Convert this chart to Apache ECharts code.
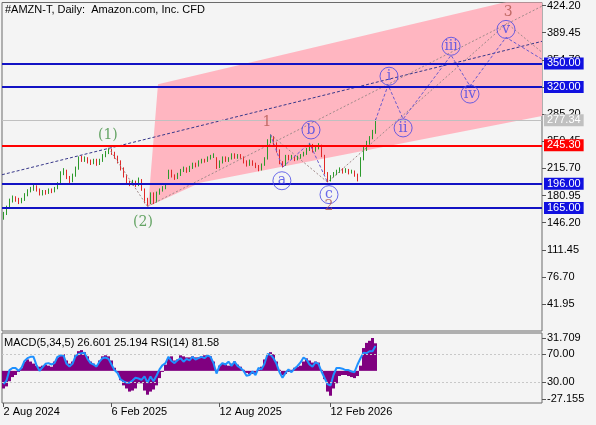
<!DOCTYPE html>
<html>
<head>
<meta charset="utf-8">
<script src="https://cdn.jsdelivr.net/npm/echarts@6.0.0/dist/echarts.min.js"></script>
<style>
  html, body { margin: 0; padding: 0; background: #f4f4f4; }
  #chart { width: 596px; height: 425px; }
</style>
</head>
<body>
<div id="chart"></div>
<script>
// bar index -> date label on the bottom axis
const tickIdx = [0, 36, 72, 109]
const tickDates = ['2 Aug 2024', '6 Feb 2025', '12 Aug 2025', '12 Feb 2026']

// price axis labels (right side)
const priceTicks = [41.95, 76.70, 111.45, 146.20, 180.95, 215.70, 250.45, 285.20, 319.95, 354.70, 389.45, 424.20]

// candles: [open, close, low, high]
const ohlc = [
  [153, 158, 150, 160], [158, 166, 156, 168], [166, 175, 164, 177], [175, 178, 172, 181], [178, 176, 173, 180],
  [176, 173, 170, 178], [173, 175, 171, 178], [175, 182, 174, 184], [182, 187, 180, 189], [187, 189, 185, 192],
  [189, 193, 187, 195], [193, 188, 186, 194], [188, 183, 181, 190], [183, 186, 181, 188], [186, 184, 182, 188],
  [184, 188, 183, 190], [188, 186, 184, 190], [186, 190, 185, 192], [190, 196, 189, 198], [196, 210, 195, 212],
  [210, 213, 207, 216], [213, 204, 202, 214], [204, 199, 197, 206], [199, 207, 198, 209], [207, 216, 205, 218],
  [216, 229, 214, 231], [229, 226, 224, 232], [226, 229, 224, 231], [229, 225, 222, 230], [225, 223, 220, 227],
  [223, 226, 221, 228], [226, 221, 219, 228], [221, 226, 220, 228], [226, 232, 224, 234], [232, 236, 230, 238],
  [236, 240, 234, 242], [240, 235, 233, 241], [235, 230, 228, 237], [230, 225, 222, 232], [225, 215, 213, 226],
  [215, 206, 204, 217], [206, 197, 195, 208], [197, 196, 193, 200], [196, 198, 194, 201], [198, 195, 192, 200],
  [195, 201, 193, 204], [201, 189, 187, 202], [189, 174, 171, 190], [174, 172, 167, 178], [172, 183, 170, 185],
  [183, 173, 170, 185], [173, 184, 172, 186], [184, 188, 182, 190], [188, 191, 186, 193], [191, 193, 189, 196],
  [203, 212, 202, 214], [212, 206, 204, 214], [206, 203, 201, 208], [203, 208, 202, 210], [208, 213, 206, 215],
  [213, 215, 211, 218], [215, 212, 210, 217], [212, 217, 211, 219], [217, 221, 215, 223], [221, 219, 217, 223],
  [219, 224, 218, 226], [224, 226, 222, 228], [226, 225, 223, 228], [225, 229, 224, 231], [229, 231, 227, 233],
  [231, 233, 229, 235], [229, 217, 215, 230], [217, 224, 216, 226], [224, 229, 222, 231], [229, 226, 224, 231],
  [226, 228, 224, 230], [228, 233, 227, 235], [233, 230, 228, 235], [230, 232, 228, 234], [232, 230, 228, 234],
  [230, 224, 222, 231], [224, 220, 218, 226], [220, 225, 219, 227], [225, 221, 219, 226], [221, 218, 216, 223],
  [218, 214, 212, 220], [214, 220, 213, 222], [220, 228, 219, 230], [228, 250, 227, 253], [250, 256, 248, 259],
  [256, 247, 245, 257], [247, 238, 236, 249], [238, 224, 221, 240], [224, 220, 217, 225], [220, 231, 219, 233],
  [231, 228, 226, 233], [228, 231, 227, 233], [231, 227, 225, 232], [227, 230, 226, 232], [230, 232, 228, 234],
  [232, 234, 231, 237], [234, 240, 233, 242], [240, 246, 238, 248], [246, 238, 236, 247], [238, 243, 237, 245],
  [243, 245, 240, 248], [245, 232, 230, 246], [232, 210, 208, 233], [210, 201, 198, 211], [201, 205, 199, 207],
  [205, 209, 204, 211], [209, 212, 207, 214], [212, 215, 210, 217], [215, 211, 209, 216], [211, 214, 210, 216],
  [214, 210, 208, 215], [210, 212, 209, 214], [212, 207, 205, 213], [207, 206, 199, 209], [206, 228, 205, 230],
  [228, 240, 226, 243], [240, 249, 238, 251], [249, 255, 246, 257], [255, 262, 253, 265], [262, 277.34, 260, 279]
]

const macd = [
  -17, -15, -10, -6, -4, -1, 3, 9, 11, 9, 7, 5, 4, 5, 6, 5, 4, 9, 13, 15,
  16, 10, 7, 9, 15, 19, 20, 18, 14, 9, 7, 5, 10, 14, 15, 14, 10, 3, -2, -9,
  -14, -17, -20, -19, -17, -12, -12, -19, -23, -20, -18, -14, -7, -1, 6, 12, 14, 10, 11, 15,
  14, 13, 13, 14, 13, 13, 14, 15, 15, 14, 9, 1, 5, 7, 6, 5, 7, 9, 6, 4,
  1, -2, -3, -3, -2, 1, 4, 11, 16, 18, 16, 9, 1, -4, -3, -1, 1, 3, 4, 5,
  9, 12, 10, 8, 9, 8, 1, -8, -20, -24, -17, -12, -5, -4, -4, -5, -6, -7, -5, 5,
  22, 27, 29, 31.7, 26.6
]

const rsi = [
  27, 32, 47, 50, 50, 46, 50, 60, 64, 66, 66, 54, 46, 51, 56, 57, 55, 57, 66, 68,
  68, 56, 52, 56, 67, 70, 71, 72, 63, 57, 55, 52, 59, 64, 65, 63, 55, 47, 43, 34,
  31, 29, 29, 32, 36, 35, 33, 38, 29, 38, 31, 39, 48, 54, 57, 66, 60, 57, 61, 64,
  59, 63, 61, 66, 62, 64, 66, 64, 68, 66, 57, 42, 53, 57, 55, 59, 53, 59, 53, 50,
  46, 39, 40, 45, 40, 50, 48, 56, 70, 69, 64, 56, 44, 36, 43, 48, 44, 49, 53, 58,
  65, 62, 55, 52, 58, 56, 45, 36, 27, 25, 40, 50, 50, 49, 47, 47, 45, 44, 55, 64,
  72, 71, 74, 74, 81.58
]

// horizontal levels
const blueLevels = [350, 320, 196, 165]
const redLevel = 245.30
const lastPrice = 277.34

// pink channel corners [bar index, price]
const channel = [[51.5, 323.5], [179.5, 439.5], [179.5, 282.8], [65.5, 197.4], [48.2, 166.8]]

// trend lines and wave paths [bar index, price]
const trendDark = [[-0.5, 207.6], [179.5, 378.3]]
const trendGray = [[48, 167], [179.5, 423.4]]
const waveMajorA = [[35, 242], [48, 167]]
const waveMajorB = [[89, 259], [108, 198], [167.8, 401.3], [179.5, 364.3]]
const waveABC = [[89, 259], [93, 217], [102, 248], [108, 198]]
const waveFuture = [[124, 277.34], [128.2, 322.3], [133.2, 278.9], [149.2, 360.5], [155.5, 321.0], [167.5, 383.4], [179.5, 355.4]]

// wave labels
const circleNames = ['a', 'b', 'c', 'i', 'ii', 'iii', 'iv', 'v']
const circlePos = [[92.8, 199.9], [102.5, 264.9], [108.5, 182.1], [128.5, 333.7], [133.2, 267.5], [149.2, 372.0], [155.5, 310.8], [167.5, 393.6]]
const waveNames = ['(1)', '(2)', '1', '2', '3']
const wavePos = [[34.8, 258.5], [46.5, 146.4], [87.8, 275.1], [108.5, 166.8], [168.2, 415.3]]
const waveColors = ['#3f8f3f', '#3f8f3f', '#b0564e', '#b0564e', '#b0564e']

const FONT = 'Liberation Sans'
const LINE_BLUE = '#1212c4'
const TAG_BLUE = '#1010e0'

const chart = echarts.init(document.getElementById('chart'), null, { renderer: 'canvas' })

function tag(bg) {
  return {
    show: true,
    position: 'end',
    distance: 2,
    formatter: p => p.value.toFixed(2),
    color: '#fff',
    backgroundColor: bg,
    padding: [1, 3, 0, 3],
    fontFamily: FONT,
    fontSize: 11
  }
}

function pathSeries(data, color, dash) {
  return {
    type: 'line',
    xAxisIndex: 0,
    yAxisIndex: 0,
    data: data,
    symbol: 'none',
    silent: true,
    z: 4,
    lineStyle: { color: color, width: 1, type: dash }
  }
}

// right-hand value axis with labels only at the given values
function rightAxis(gridIndex, min, max, values, digits) {
  return {
    type: 'value', gridIndex: gridIndex, position: 'right', min: min, max: max,
    splitLine: { show: false },
    axisLine: { show: false, onZero: false },
    axisTick: { show: true, inside: false, customValues: values, length: 4, lineStyle: { color: '#555' } },
    axisLabel: {
      customValues: values,
      formatter: v => v.toFixed(digits),
      margin: 5, color: '#000', fontSize: 11, fontFamily: FONT
    }
  }
}

const levelLines = blueLevels.map(v => ({
  yAxis: v, lineStyle: { color: LINE_BLUE, width: 2, type: 'solid' }, label: tag(TAG_BLUE)
}))
levelLines.push({ yAxis: redLevel, lineStyle: { color: '#ff0000', width: 2, type: 'solid' }, label: tag('#ff0000') })
levelLines.push({ yAxis: lastPrice, lineStyle: { color: '#c0c0c0', width: 1, type: 'solid' }, label: tag('#c0c0c0') })

const textStyle = { fontSize: 11, fontWeight: 'normal', color: '#000', fontFamily: FONT }

const option = {
  animation: false,
  backgroundColor: '#f4f4f4',
  title: [
    { text: '#AMZN-T, Daily:  Amazon.com, Inc. CFD', left: 5, top: 4, padding: 0, textStyle: textStyle },
    { text: 'MACD(5,34,5) 26.601 25.194 RSI(14) 81.58', left: 4, top: 337, padding: 0, textStyle: textStyle }
  ],
  grid: [
    { left: 2, right: 54, top: 1, height: 330, show: true, borderColor: '#6a6a6a', borderWidth: 1 },
    { left: 2, right: 54, top: 333, height: 70, show: true, borderColor: '#6a6a6a', borderWidth: 1 }
  ],
  xAxis: [
    { type: 'value', gridIndex: 0, min: -0.5, max: 179.5, show: false, axisLine: { onZero: false } },
    {
      type: 'value', gridIndex: 1, min: -0.5, max: 179.5,
      splitLine: { show: false },
      axisLine: { show: false, onZero: false },
      axisTick: { show: true, inside: false, customValues: tickIdx, length: 4, lineStyle: { color: '#555' } },
      axisLabel: {
        customValues: tickIdx,
        formatter: v => tickDates[tickIdx.indexOf(v)],
        align: 'left', margin: 3,
        color: '#000', fontSize: 11, fontFamily: FONT
      }
    }
  ],
  yAxis: [
    rightAxis(0, 7.53, 428.02, priceTicks, 2),
    rightAxis(1, -31.015, 36.53, [31.709, -27.155], 3),
    rightAxis(1, 0, 100, [30, 70], 2)
  ],
  series: [
    {
      // pink channel
      type: 'custom',
      xAxisIndex: 0,
      yAxisIndex: 0,
      clip: true,
      silent: true,
      z: 1,
      data: [[60, 250]],
      renderItem: (params, api) => ({
        type: 'polygon',
        shape: { points: channel.map(p => api.coord(p)) },
        style: { fill: '#ffb6c1' }
      })
    },
    {
      type: 'candlestick',
      xAxisIndex: 0,
      yAxisIndex: 0,
      z: 3,
      barWidth: 1,
      data: ohlc.map((d, i) => [i].concat(d)),
      encode: { x: 0, y: [1, 2, 3, 4] },
      itemStyle: {
        color: '#2c9a2c', color0: '#e02828',
        borderColor: '#2c9a2c', borderColor0: '#e02828', borderWidth: 1
      },
      markLine: {
        silent: true,
        symbol: ['none', 'none'],
        data: levelLines
      }
    },
    pathSeries(trendDark, '#38388a', [3, 2]),
    pathSeries(trendGray, '#a08a8a', [2, 2]),
    pathSeries(waveMajorA, '#a08a8a', [2, 2]),
    pathSeries(waveMajorB, '#a08a8a', [2, 2]),
    pathSeries(waveABC, '#6a5acd', [3, 2]),
    pathSeries(waveFuture, '#6a5acd', [3, 2]),
    {
      type: 'scatter',
      xAxisIndex: 0,
      yAxisIndex: 0,
      silent: true,
      z: 5,
      symbol: 'circle',
      symbolSize: 18,
      data: circlePos,
      itemStyle: { color: 'rgba(0,0,0,0)', borderColor: '#4646e6', borderWidth: 1 },
      label: {
        show: true, position: 'inside',
        formatter: p => circleNames[p.dataIndex],
        color: '#4646e6', fontFamily: 'DejaVu Serif', fontSize: 14
      }
    },
    {
      type: 'scatter',
      xAxisIndex: 0,
      yAxisIndex: 0,
      silent: true,
      z: 5,
      symbolSize: 1,
      itemStyle: { color: 'rgba(0,0,0,0)' },
      data: wavePos.map((p, i) => ({ value: p, label: { color: waveColors[i] } })),
      label: {
        show: true, position: 'inside',
        formatter: p => waveNames[p.dataIndex],
        fontFamily: 'DejaVu Serif', fontSize: 14
      }
    },
    {
      type: 'bar',
      xAxisIndex: 1,
      yAxisIndex: 1,
      barWidth: 3,
      data: macd.map((v, i) => [i, v]),
      itemStyle: { color: '#800080' },
      silent: true
    },
    {
      type: 'line',
      xAxisIndex: 1,
      yAxisIndex: 2,
      data: rsi.map((v, i) => [i, v]),
      symbol: 'none',
      silent: true,
      z: 4,
      lineStyle: { color: '#1e90ff', width: 2 },
      markLine: {
        silent: true,
        symbol: ['none', 'none'],
        label: { show: false },
        lineStyle: { color: '#c8c8c8', type: [2, 2], width: 1 },
        data: [{ yAxis: 30 }, { yAxis: 70 }]
      }
    }
  ]
}

chart.setOption(option)
</script>
</body>
</html>
